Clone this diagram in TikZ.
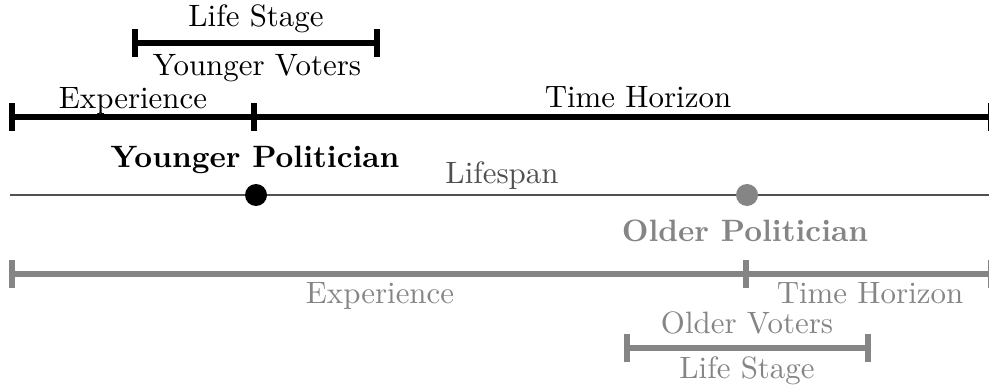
\documentclass[tikz,border=0pt]{standalone}
\definecolor{midgray}{HTML}{858585}
\definecolor{lifegray}{HTML}{505050}
\begin{document}
\begin{tikzpicture}[x=0.33pt,y=-0.33pt,
  bar/.style={line width=1.75pt, line cap=butt},
  lbl/.style={anchor=base, inner sep=0pt, font=\fontsize{10.2}{12}\selectfont},
  bold/.style={lbl, font=\fontsize{10.2}{12}\selectfont\bfseries}]
\useasboundingbox (0,0) rectangle (989,389);
% coordinates
\coordinate (ls1) at (135,43);  \coordinate (ls2) at (377,43);
\coordinate (e1) at (12,117);   \coordinate (e2) at (254,117);  \coordinate (th2) at (990.5,117);
\coordinate (lf1) at (10,195);  \coordinate (lf2) at (989,195);
\coordinate (ge1) at (12,274);  \coordinate (ge2) at (746,274); \coordinate (gth2) at (990.5,274);
\coordinate (ov1) at (627,348); \coordinate (ov2) at (868,348);
% lifespan line
\draw[lifegray, line width=0.5pt] (lf1) -- (lf2);
% black bars
\draw[bar] (ls1) -- (ls2);
\draw[bar] (e1) -- (e2) -- (th2);
\foreach \c in {ls1,ls2,e1,e2,th2}
  \draw[bar] ([yshift=4.6pt]\c) -- ([yshift=-4.6pt]\c);
% gray bars
\draw[bar, midgray] (ge1) -- (ge2) -- (gth2);
\draw[bar, midgray] (ov1) -- (ov2);
\foreach \c in {ge1,ge2,gth2,ov1,ov2}
  \draw[bar, midgray] ([yshift=4.6pt]\c) -- ([yshift=-4.6pt]\c);
% dots
\fill[black] (256,195) circle[radius=11];
\fill[midgray] (747,195) circle[radius=11];
% labels
\node[lbl] (lsT) at (256,27) {Life Stage};
\node[lbl] (yv) at (257,76) {Younger Voters};
\node[lbl] (expT) at (133,109) {Experience};
\node[lbl] (thT) at (638,108) {Time Horizon};
\node[bold] (ypol) at (255,167) {Younger Politician};
\node[lbl, text=lifegray] (lifespan) at (502,184) {Lifespan};
\node[bold, text=midgray] (opol) at (745,241) {Older Politician};
\node[lbl, text=midgray] (expB) at (380,303) {Experience};
\node[lbl, text=midgray] (thB) at (870,303) {Time Horizon};
\node[lbl, text=midgray] (ov) at (747,333) {Older Voters};
\node[lbl, text=midgray] (lsB) at (747,378) {Life Stage};
\end{tikzpicture}
\end{document}
